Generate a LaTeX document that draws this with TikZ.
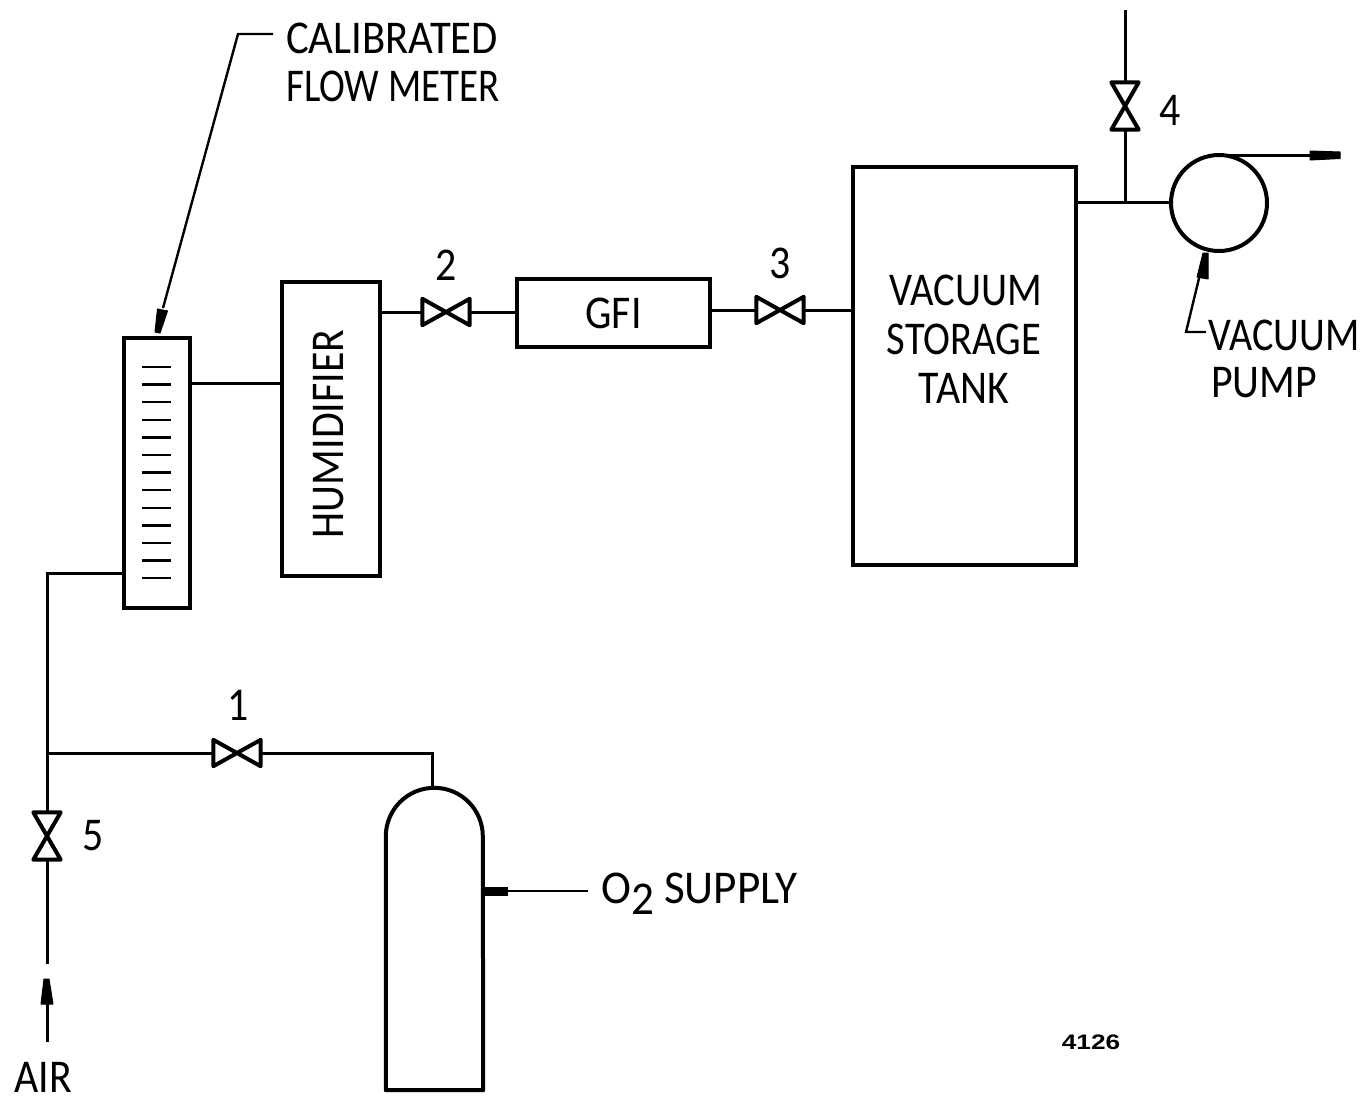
\documentclass[tikz,border=0pt]{standalone}
\usepackage{fontspec}
\usepackage{graphicx}
\usetikzlibrary{arrows.meta}
\newfontfamily\lblfont[FakeStretch=0.89]{Carlito}
\newfontfamily\tagfont{Liberation Sans}[FakeStretch=1.25]
\tikzset{
  x=1pt,y=-1pt,
  boxnode/.style={draw=black,line width=4pt,minimum width=#1,inner sep=0pt},
  pipe/.style={draw=black,line width=3pt},
  lead/.style={draw=black,line width=2.4pt},
  lbl/.style={font=\fontsize{47}{48}\lblfont,inner sep=0pt,text=black},
  valvestroke/.style={draw=black,line width=4pt,line join=round},
  valveh/.style={minimum width=47pt,minimum height=26pt,inner sep=0pt,
    append after command={\pgfextra{\draw[valvestroke]
      (\tikzlastnode.north west)--(\tikzlastnode.south east)--(\tikzlastnode.north east)--(\tikzlastnode.south west)--cycle;}}},
  valvev/.style={minimum width=27pt,minimum height=47pt,inner sep=0pt,
    append after command={\pgfextra{\draw[valvestroke]
      (\tikzlastnode.north west)--(\tikzlastnode.north east)--(\tikzlastnode.south west)--(\tikzlastnode.south east)--cycle;}}},
  nozzlefill/.style={fill=black,draw=black,line width=1pt,line join=round},
  tick/.style={draw=black,line width=2.4pt},
}
\begin{document}
\begin{tikzpicture}
\useasboundingbox[fill=white] (0,0) rectangle (1364,1101);

% boxes
\node[boxnode=66pt,minimum height=270pt] (meter) at (157,473) {};
\node[boxnode=98pt,minimum height=294pt] (hum) at (331,429) {};
\node[lbl,rotate=90] (humtext) at (329,434) {HUMIDIFIER};
\node[boxnode=193pt,minimum height=68pt,lbl] (gfi) at (613.5,313) {GFI};
\node[boxnode=223pt,minimum height=398pt] (tank) at (964.5,366) {};
\node[lbl,align=center] (tanktext) at (964,339) {\hspace*{3pt}\scalebox{.97}[1]{VACUUM}\\[1pt]\scalebox{.97}[1]{STORAGE}\\[1pt]TANK};
\node[draw=black,line width=4pt,circle,minimum size=96pt,inner sep=0pt] (pump) at (1219,203) {};
\node[minimum width=97pt,minimum height=302pt,inner sep=0pt] (cyl) at (434.5,939) {};
\draw[black,line width=4pt,line join=round]
  (cyl.south west) -- ([yshift=-48.5pt]cyl.north west) arc[start angle=180,end angle=0,radius=48.5pt]
  -- (cyl.south east) -- cycle;

% valves
\node[valveh] (v1) at (237,753) {};
\node[valveh] (v2) at (446,312) {};
\node[valveh] (v3) at (780,310) {};
\node[valvev] (v4) at (1125,106) {};
\node[valvev] (v5) at (47,836) {};

% helper points
\coordinate (cmh) at (200,383);
\coordinate (cmin) at (100,573);
\coordinate (topin) at (1125,10);
\coordinate (junc4) at (1125,202);
\coordinate (junc1) at (47,753);
\coordinate (airend) at (47,964);
\coordinate (airtail) at (47,1042);
\coordinate (airtip) at (47,1003);
\coordinate (exhstart) at (1219,155);
\coordinate (exhnoz) at (1310,155);
\coordinate (cyltop) at (432,788);
\coordinate (o2noz) at (508,891);
\coordinate (o2wall) at (483,891);
\coordinate (o2end) at (588,891);
\coordinate (fmA) at (273,34);
\coordinate (fmB) at (238,34);
\coordinate (fmC) at (163,308);
\coordinate (vpA) at (1206,332);
\coordinate (vpB) at (1186,332);
\coordinate (vpC) at (1201,270);

% pipes
\draw[pipe] (meter.east |- cmh) -- (hum.west |- cmh);
\draw[pipe] (hum.east |- v2) -- (v2.west);
\draw[pipe] (v2.east) -- (v2.east -| gfi.west);
\draw[pipe] (gfi.east |- v3) -- (v3.west);
\draw[pipe] (v3.east) -- (v3.east -| tank.west);
\draw[pipe] (tank.east |- junc4) -- (pump.west |- junc4);
\draw[pipe] (junc4) -- (v4.south);
\draw[pipe] (v4.north) -- (topin);
\draw[pipe] (meter.west |- cmin) -- (junc1 |- cmin) -- (junc1);
\draw[pipe] (junc1) -- (v5.north);
\draw[pipe] (v5.south) -- (airend);
\draw[pipe] (junc1) -- (v1.west);
\draw[pipe] (v1.east) -- (cyltop |- v1) -- (cyltop);

% exhaust
\draw[pipe] (exhstart) -- (exhnoz);
\draw[nozzlefill] (1310,151) -- (1340,152) -- (1340,158.5) -- (1310,160) -- cycle;

% air arrow
\draw[pipe] (airtail) -- (airtip);
\draw[nozzlefill] (44,979) -- (49,979) -- (53,1004) -- (41,1004) -- cycle;

% O2 leader
\draw[lead] (o2end) -- (o2noz);
\draw[black,line width=9pt] (o2noz) -- (o2wall);

% flow meter leader
\draw[lead] (fmA) -- (fmB) -- (fmC);
\draw[nozzlefill] (157.5,309) -- (167.5,311) -- (160,333) -- (155,332) -- cycle;
% vacuum pump leader
\draw[lead] (vpA) -- (vpB) -- (vpC);
\draw[nozzlefill] (1197,277) -- (1208,279) -- (1208,253) -- (1203,253) -- cycle;

% meter ticks
\foreach \i in {0,...,12} \draw[tick] (142,367+17.6*\i) -- (171,367+17.6*\i);

% labels
\node[lbl,anchor=base west] (t1) at (286,53) {\scalebox{1.02}[1]{CALIBRATED}};
\node[lbl,anchor=base west] (t2) at (286,101) {\scalebox{.93}[1]{FLOW METER}};
\node[lbl] (n1) at (238,705) {1};
\node[lbl] (n2) at (446,265) {2};
\node[lbl] (n3) at (780,263) {3};
\node[lbl] (n4) at (1170,110) {4};
\node[lbl] (n5) at (93,836) {5};
\node[lbl,anchor=base west] (t3) at (1208,350) {\scalebox{.96}[1]{VACUUM}};
\node[lbl,anchor=base west] (t4) at (1211,397) {PUMP};
\node[lbl,anchor=base west] (t5) at (601,903) {\scalebox{1.08}[1]{O\raisebox{-11pt}{2} SUPPLY}};
\node[lbl,anchor=base] (t6) at (43,1092) {AIR};
\node[font=\fontsize{21}{22}\tagfont\bfseries,inner sep=0pt] (t7) at (1091,1042) {4126};
\end{tikzpicture}
\end{document}
